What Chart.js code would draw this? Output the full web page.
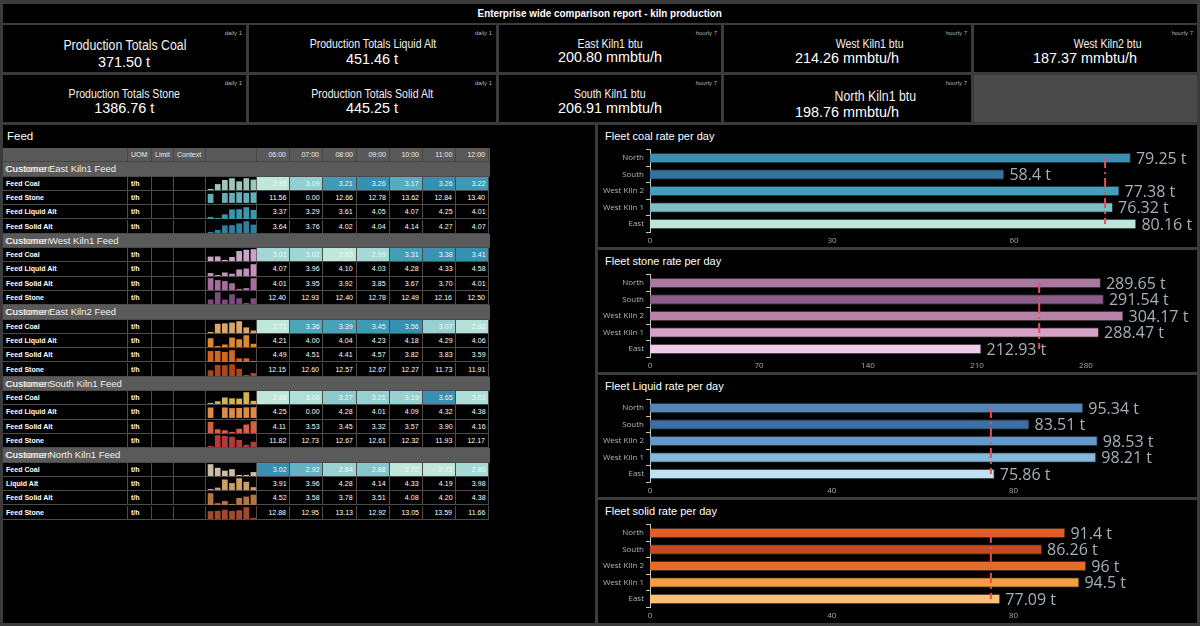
<!DOCTYPE html>
<html>
<head>
<meta charset="utf-8">
<title>Enterprise wide comparison report - kiln production</title>
<script src="https://cdn.jsdelivr.net/npm/chart.js@4.4.1/dist/chart.umd.min.js"></script>
<style>
html,body{margin:0;padding:0}
body{width:1200px;height:626px;background:#3b3b3b;position:relative;overflow:hidden;font-family:"Liberation Sans",Arial,sans-serif;color:#fff}
.panel{position:absolute;background:#000}
.tl{position:absolute;left:0;right:0;text-align:center;white-space:nowrap}
.sq{display:inline-block;white-space:nowrap;transform:scaleX(.88);transform-origin:center}
.tag{position:absolute;right:4px;top:5px;font-size:6px;color:#b4b4b4;line-height:6px}
.cell{position:absolute;box-sizing:border-box;border-right:1px solid #4c4c4c;border-bottom:1px solid #4c4c4c;overflow:hidden;white-space:nowrap}
.ptitle{position:absolute;font-size:11px;color:#fff;white-space:nowrap;line-height:14px}
canvas{position:absolute}
</style>
</head>
<body>
<script>
// ---------------- DATA ----------------
const reportTitle = 'Enterprise wide comparison report - kiln production';
const kpiTitles = ['Production Totals Coal','Production Totals Liquid Alt','East Kiln1 btu','West Kiln1 btu','West Kiln2 btu',
                   'Production Totals Stone','Production Totals Solid Alt','South Kiln1 btu','North Kiln1 btu'];
const kpiValues = ['371.50 t','451.46 t','200.80 mmbtu/h','214.26 mmbtu/h','187.37 mmbtu/h',
                   '1386.76 t','445.25 t','206.91 mmbtu/h','198.76 mmbtu/h'];
const kpiFrequency = ['daily 1','daily 1','hourly 7','hourly 7','hourly 7','daily 1','daily 1','hourly 7','hourly 7'];

const feedTitle = 'Feed';
const tableHeaders = ['', 'UOM', 'Limit', 'Context', ''];
const hours = ['06:00','07:00','08:00','09:00','10:00','11:00','12:00'];
const groupPrefix = 'Customer';
const groupNames = ['East Kiln1 Feed','West Kiln1 Feed','East Kiln2 Feed','South Kiln1 Feed','North Kiln1 Feed'];
const unitLabel = 't/h';

const eastKiln1Rows = ['Feed Coal','Feed Stone','Feed Liquid Alt','Feed Solid Alt'];
const eastKiln1Values = [
  [2.95,3.09,3.21,3.26,3.17,3.26,3.22],
  [11.56,0.00,12.66,12.78,13.62,12.84,13.40],
  [3.37,3.29,3.61,4.05,4.07,4.25,4.01],
  [3.64,3.76,4.02,4.04,4.14,4.27,4.07]];
const westKiln1Rows = ['Feed Coal','Feed Liquid Alt','Feed Solid Alt','Feed Stone'];
const westKiln1Values = [
  [3.01,3.02,2.83,2.99,3.31,3.38,3.41],
  [4.07,3.96,4.10,4.03,4.28,4.33,4.58],
  [4.01,3.95,3.92,3.85,3.67,3.70,4.01],
  [12.40,12.93,12.40,12.78,12.49,12.16,12.50]];
const eastKiln2Rows = ['Feed Coal','Feed Liquid Alt','Feed Solid Alt','Feed Stone'];
const eastKiln2Values = [
  [2.71,3.36,3.39,3.45,3.56,3.07,2.82],
  [4.21,4.00,4.04,4.23,4.18,4.29,4.06],
  [4.49,4.51,4.41,4.57,3.82,3.83,3.59],
  [12.15,12.60,12.57,12.67,12.27,11.73,11.91]];
const southKiln1Rows = ['Feed Coal','Feed Liquid Alt','Feed Solid Alt','Feed Stone'];
const southKiln1Values = [
  [2.88,3.00,3.27,3.21,3.19,3.65,3.03],
  [4.25,0.00,4.28,4.01,4.09,4.32,4.38],
  [4.11,3.53,3.45,3.32,3.57,3.90,4.16],
  [11.82,12.73,12.67,12.61,12.32,11.93,12.17]];
const northKiln1Rows = ['Feed Coal','Liquid Alt','Feed Solid Alt','Feed Stone'];
const northKiln1Values = [
  [3.02,2.92,2.84,2.88,2.72,2.72,2.80],
  [3.91,3.96,4.28,4.14,4.33,4.19,3.98],
  [4.52,3.58,3.78,3.51,4.08,4.20,4.38],
  [12.88,12.95,13.13,12.92,13.05,13.59,11.66]];

const fleetSites = ['North','South','West Kiln 2','West Kiln 1','East'];
const coalRates = [79.25,58.4,77.38,76.32,80.16];
const stoneRates = [289.65,291.54,304.17,288.47,212.93];
const liquidRates = [95.34,83.51,98.53,98.21,75.86];
const solidRates = [91.4,86.26,96,94.5,77.09];
const coalTarget = 75, stoneTarget = 250, liquidTarget = 75, solidTarget = 75;
const coalTicks = [0,30,60];
const stoneTicks = [0,70,140,210,280];
const liquidTicks = [0,40,80];
const solidTicks = [0,40,80];
const fleetTitles = ['Fleet coal rate per day','Fleet stone rate per day','Fleet Liquid rate per day','Fleet solid rate per day'];
const valueUnit = ' t';

// ---------------- STYLES ----------------
const eastKiln1Colors = ['#9fc4bb','#64afb8','#3b96b0','#307e9e'];
const westKiln1Colors = ['#c9a5c8','#c491bd','#a56e9d','#7b4b7d'];
const eastKiln2Colors = ['#d8a56c','#da8a30','#d3671f','#ae4519'];
const southKiln1Colors = ['#d5b44c','#df8b43','#d6603d','#b8393a'];
const northKiln1Colors = ['#cdbfa5','#cb9f5f','#b47545','#a5492b'];
const coalColors = ['#3b90b1','#32749c','#449fbc','#7ec0c8','#bfe6da'];
const stoneColors = ['#a8789f','#8c5f8b','#b982a7','#d5a2c6','#f1cbe7'];
const liquidColors = ['#5286b7','#3f6fa1','#6399c8','#87b8de','#c0e1f3'];
const solidColors = ['#df5e26','#c84a24','#e96b25','#f59e40','#fdc17c'];
const heatStops = [[0,'#bfe7da'],[0.3,'#a3d8d5'],[0.5,'#8ecbd0'],[0.7,'#5cacc1'],[0.85,'#4199b5'],[1,'#3790b0']];

const groups = [
  {name:groupNames[0], rows:eastKiln1Rows, values:eastKiln1Values, colors:eastKiln1Colors},
  {name:groupNames[1], rows:westKiln1Rows, values:westKiln1Values, colors:westKiln1Colors},
  {name:groupNames[2], rows:eastKiln2Rows, values:eastKiln2Values, colors:eastKiln2Colors},
  {name:groupNames[3], rows:southKiln1Rows, values:southKiln1Values, colors:southKiln1Colors},
  {name:groupNames[4], rows:northKiln1Rows, values:northKiln1Values, colors:northKiln1Colors}];

// ---------------- LAYOUT HELPERS ----------------
const B = document.body;
function el(tag, cls, css, text, parent){
  const e = document.createElement(tag);
  if (cls) e.className = cls;
  if (css) e.style.cssText = css;
  if (text != null) e.textContent = text;
  (parent || B).appendChild(e);
  return e;
}
function hex2rgb(h){ return [1,3,5].map(i => parseInt(h.substr(i,2),16)); }
function heat(t){
  for (let k = 1; k < heatStops.length; k++){
    if (t <= heatStops[k][0]){
      const [t0,c0] = heatStops[k-1], [t1,c1] = heatStops[k];
      const f = (t - t0) / (t1 - t0), a = hex2rgb(c0), b = hex2rgb(c1);
      return 'rgb(' + a.map((v,j) => Math.round(v + (b[j]-v)*f)).join(',') + ')';
    }
  }
  return heatStops[heatStops.length-1][1];
}

// Title bar
const tb = el('div','panel','left:3px;top:4px;width:1194px;height:19px;');
const tbt = el('div','tl','top:0;line-height:19px;font-size:11px;font-weight:bold;',null,tb);
el('span','sq','transform:scaleX(.9)',reportTitle,tbt);

// KPI tiles
const tileBoxes = [[3,25,243,47],[249,25,247,47],[499,25,222,47],[724,25,247,47],[974,25,223,47],
                   [3,75,243,47],[249,75,247,47],[499,75,222,47],[724,75,247,47]];
const tileText = [[20,14,37,15.5,0],[19,12,34,15.5,0],[19,12,32,15.5,0],[19,12,33,15.5,22],[19,12,33,15.5,22],
                  [19,12,33,15.5,0],[19,12,33,15.5,0],[19,12,33,15.5,0],[21,14,37,15.5,28]];
tileBoxes.forEach((bx,i) => {
  const [x,y,w,h] = bx, [tc,ts,vc,vs,sh] = tileText[i];
  const p = el('div','panel',`left:${x}px;top:${y}px;width:${w}px;height:${h}px;`);
  el('div','tag',null,kpiFrequency[i],p);
  const t = el('div','tl',`top:${tc - ts*0.6}px;line-height:${ts*1.2}px;font-size:${ts}px;color:#f2f2f2;padding-left:${sh*2}px;`,null,p);
  el('span','sq',null,kpiTitles[i],t);
  const v = el('div','tl',`top:${vc - vs*0.6}px;line-height:${vs*1.2}px;font-size:${vs}px;color:#fff;`,null,p);
  el('span','sq','transform:scaleX(.93)',kpiValues[i],v);
});
el('div',null,'position:absolute;left:974px;top:75px;width:223px;height:47px;background:#4a4a4a;');

// Feed panel
el('div','panel','left:3px;top:125px;width:592px;height:498px;');
el('div','ptitle','left:7px;top:129px;font-size:11.5px;',feedTitle);

const colX = [3,128,152,174,206,257];
for (let k = 1; k <= 7; k++) colX.push(257 + k*33.2);
const rowTop = 148, rowH = 14.3;

function cell(x0,x1,y,css,text,align){
  const c = el('div','cell',`left:${x0}px;top:${y}px;width:${x1-x0}px;height:${rowH}px;line-height:${rowH-1}px;${css||''}`);
  if (text != null && text !== ''){
    el('span','sq',`transform:scaleX(.88);transform-origin:${align==='right'?'right':'left'};`,text,c);
    if (align === 'right'){ c.style.textAlign = 'right'; c.style.paddingRight = '3px'; }
    else c.style.paddingLeft = '3px';
  }
  return c;
}
// header row
const hdrCss = 'background:#595959;border-color:#464646;font-size:8px;color:#ececec;';
for (let c = 0; c < 5; c++) cell(colX[c], colX[c+1], rowTop, hdrCss, tableHeaders[c], 'left');
hours.forEach((hh,k) => cell(colX[5+k], colX[6+k], rowTop, hdrCss, hh, 'right'));
el('div',null,`position:absolute;left:${colX[12]}px;top:${rowTop}px;width:${490-colX[12]}px;height:${rowH}px;background:#595959;`);

const sparkJobs = [];
let r = 1;
groups.forEach(g => {
  const y = rowTop + r*rowH;
  const gr = el('div',null,`position:absolute;left:3px;top:${y}px;width:487px;height:${rowH}px;background:#5a5a5a;box-sizing:border-box;border-bottom:1px solid #4a4a4a;font-size:9.5px;line-height:${rowH}px;color:#f0f0f0;white-space:nowrap;`);
  el('span',null,'position:absolute;left:3px;top:0;',groupPrefix,gr);
  el('span',null,'position:absolute;left:2px;top:0;letter-spacing:.6px;opacity:.8;',groupPrefix,gr);
  el('span',null,'position:absolute;left:46px;top:0;',g.name,gr);
  r++;
  g.rows.forEach((name,ri) => {
    const yy = rowTop + r*rowH;
    const vals = g.values[ri];
    const base = 'background:#000;font-size:8px;color:#fff;';
    cell(colX[0], colX[1], yy, base+'font-weight:bold;', name, 'left');
    cell(colX[1], colX[2], yy, base+'font-weight:bold;', unitLabel, 'left');
    cell(colX[2], colX[3], yy, base, '', 'left');
    cell(colX[3], colX[4], yy, base, '', 'left');
    cell(colX[4], colX[5], yy, base, '', 'left');
    const isHeat = name.indexOf('Coal') >= 0;
    const mn = Math.min(...vals), mx = Math.max(...vals);
    vals.forEach((v,k) => {
      const bg = isHeat ? heat((v-mn)/(mx-mn)) : '#000';
      cell(colX[5+k], colX[6+k], yy, `background:${bg};font-size:8px;color:${isHeat?'#f4f8f8':'#fff'};`, v.toFixed(2), 'right');
    });
    el('div',null,`position:absolute;left:${colX[12]}px;top:${yy}px;width:${490-colX[12]}px;height:${rowH}px;background:#000;`);
    const cv = el('canvas',null,`left:${colX[4]+1}px;top:${yy+1.3}px;`);
    cv.width = 50; cv.height = 12;
    sparkJobs.push({cv, vals, color:g.colors[ri], mn, mx});
    r++;
  });
});

// Right panels
const fleetSets = [
  {vals:coalRates, colors:coalColors, ticks:coalTicks, target:coalTarget, max:88},
  {vals:stoneRates, colors:stoneColors, ticks:stoneTicks, target:stoneTarget, max:343},
  {vals:liquidRates, colors:liquidColors, ticks:liquidTicks, target:liquidTarget, max:117.5},
  {vals:solidRates, colors:solidColors, ticks:solidTicks, target:solidTarget, max:117.5}];
const fleetCanvases = [];
fleetSets.forEach((f,i) => {
  const top = 125 + i*125;
  el('div','panel',`left:598px;top:${top}px;width:599px;height:${i===3?123:122}px;`);
  el('div','ptitle',`left:605px;top:${top+4}px;`,fleetTitles[i]);
  const cv = el('canvas',null,`left:598px;top:${top+14}px;`);
  cv.width = 599; cv.height = 106;
  fleetCanvases.push(cv);
});

// ---------------- CHARTS ----------------
Chart.defaults.font.family = '"Open Sans","DejaVu Sans",sans-serif';

sparkJobs.forEach(j => {
  const span = j.mx - j.mn;
  new Chart(j.cv, {
    type:'bar',
    data:{labels:hours, datasets:[{data:j.vals, backgroundColor:j.color, barPercentage:0.8, categoryPercentage:1}]},
    options:{responsive:false, animation:false, events:[],
      layout:{padding:0},
      plugins:{legend:{display:false}, tooltip:{enabled:false}},
      scales:{x:{display:false}, y:{display:false, min:j.mn - span*0.1, max:j.mx + span*0.02}}}
  });
});

const fleetMarks = {
  id:'fleetMarks',
  afterDatasetsDraw(chart, args, opts){
    const ctx = chart.ctx, xs = chart.scales.x, ys = chart.scales.y;
    const meta = chart.getDatasetMeta(0);
    ctx.save();
    const tx = xs.getPixelForValue(opts.target);
    ctx.strokeStyle = '#e2505a'; ctx.lineWidth = 2; ctx.setLineDash([10,4,2,4]);
    ctx.beginPath();
    ctx.moveTo(tx, ys.getPixelForValue(0));
    ctx.lineTo(tx, ys.getPixelForValue(chart.data.labels.length-1));
    ctx.stroke();
    ctx.setLineDash([]);
    ctx.font = '16px "Open Sans"'; ctx.fillStyle = '#a6b0b8';
    ctx.textAlign = 'left'; ctx.textBaseline = 'middle';
    meta.data.forEach((b,i) => ctx.fillText(String(chart.data.datasets[0].data[i]) + valueUnit, b.x + 5, b.y + 1));
    ctx.restore();
  }
};

fleetSets.forEach((f,i) => {
  new Chart(fleetCanvases[i], {
    type:'bar',
    data:{labels:fleetSites, datasets:[{data:f.vals, backgroundColor:f.colors, borderColor:'rgba(255,255,255,0.14)', borderWidth:1,
      barPercentage:0.64, categoryPercentage:1}]},
    plugins:[fleetMarks],
    options:{indexAxis:'y', responsive:false, animation:false, events:[],
      layout:{padding:{left:0, right:13, top:10.75, bottom:0}},
      plugins:{legend:{display:false}, tooltip:{enabled:false}, fleetMarks:{target:f.target}},
      scales:{
        x:{min:0, max:f.max,
           afterBuildTicks(s){ s.ticks = f.ticks.map(v => ({value:v})); },
           afterFit(s){ s.height = 12.75; },
           grid:{display:false, drawTicks:false}, border:{display:false},
           ticks:{color:'#a8a8a8', font:{size:8}, padding:4, maxRotation:0}},
        y:{afterFit(s){ s.width = 52; },
           grid:{offset:true, drawOnChartArea:false, drawTicks:true, tickLength:4, color:'#c4c4c4'},
           border:{display:true, color:'#c4c4c4'},
           ticks:{color:'#aeb6be', font:{size:8}, padding:2}}
      }}
  });
});
</script>
</body>
</html>
